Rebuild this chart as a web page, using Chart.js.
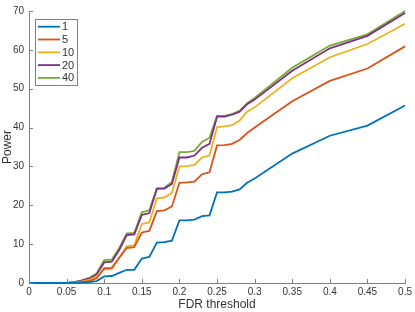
<!DOCTYPE html>
<html>
<head>
<meta charset="utf-8">
<script src="https://cdn.jsdelivr.net/npm/chart.js@4"></script>
<style>
  html, body { margin: 0; padding: 0; background: #fff; }
  canvas { display: block; }
</style>
</head>
<body>
<canvas id="powerChart" width="415" height="312"></canvas>
<script>
const fdr = [0, 0.01, 0.02, 0.03, 0.04, 0.05, 0.06, 0.07, 0.08, 0.09,
  0.1, 0.11, 0.12, 0.13, 0.14, 0.15, 0.16, 0.17, 0.18, 0.19,
  0.2, 0.21, 0.22, 0.23, 0.24, 0.25, 0.26, 0.27, 0.28, 0.29,
  0.3, 0.35, 0.4, 0.45, 0.5];

const labels = ['1', '5', '10', '20', '40'];

const power1 = [0, 0, 0, 0, 0, 0, 0.05, 0.1, 0.2, 0.5,
  1.7, 1.8, 2.6, 3.4, 3.4, 6.3, 6.7, 10.4, 10.5, 10.9,
  16.1, 16.1, 16.3, 17.2, 17.4, 23.3, 23.3, 23.5, 24.1, 25.8,
  26.9, 33.3, 37.9, 40.5, 45.7];
const power5 = [0, 0, 0, 0, 0, 0, 0.1, 0.3, 0.5, 1.2,
  3.8, 3.9, 6.5, 9.0, 9.2, 13.0, 13.4, 18.5, 18.7, 19.7,
  25.8, 25.9, 26.1, 28.0, 28.5, 35.4, 35.5, 35.8, 36.8, 38.6,
  40.0, 46.8, 52.0, 55.2, 60.9];
const power10 = [0, 0, 0, 0, 0, 0, 0.1, 0.4, 0.8, 1.6,
  3.5, 3.6, 6.5, 9.5, 9.7, 15.2, 15.6, 21.8, 22.0, 23.2,
  30.0, 30.1, 30.4, 32.3, 32.8, 40.1, 40.3, 40.6, 41.8, 44.1,
  45.2, 52.7, 58.1, 61.5, 66.7];
const power20 = [0, 0, 0, 0, 0, 0, 0.2, 0.6, 1.1, 2.2,
  5.3, 5.5, 8.5, 12.3, 12.5, 17.5, 18.0, 24.2, 24.3, 25.5,
  32.3, 32.3, 32.8, 34.8, 35.8, 42.8, 42.8, 43.3, 44.1, 46.0,
  47.2, 54.6, 60.4, 63.6, 69.5];
const power40 = [0, 0, 0, 0, 0, 0, 0.2, 0.7, 1.3, 2.5,
  5.9, 6.0, 9.0, 12.8, 12.9, 18.2, 18.7, 24.4, 24.5, 26.0,
  33.7, 33.7, 34.0, 36.3, 37.4, 43.0, 43.0, 43.5, 44.3, 46.3,
  47.6, 55.4, 61.1, 64.0, 70.0];

const series = [power1, power5, power10, power20, power40];
const colors = ['#0072BD', '#D95319', '#EDB120', '#7E2F8E', '#77AC30'];

const axisColor = '#808080';
const textColor = '#333333';
const fontFam = '"Liberation Sans", Arial, Helvetica, sans-serif';

const datasets = series.map((vals, i) => ({
  label: labels[i],
  data: vals.map((v, j) => ({ x: fdr[j], y: v })),
  borderColor: colors[i],
  backgroundColor: colors[i],
  borderWidth: 1.8,
  pointRadius: 0,
  tension: 0,
  clip: false
}));

// MATLAB-like inward tick marks
const inwardTicks = {
  id: 'inwardTicks',
  afterDraw(chart) {
    const ctx = chart.ctx;
    const xs = chart.scales.x, ys = chart.scales.y;
    const a = chart.chartArea;
    ctx.save();
    ctx.strokeStyle = axisColor;
    ctx.lineWidth = 1;
    ctx.beginPath();
    xs.ticks.forEach(t => {
      const px = Math.round(xs.getPixelForValue(t.value)) + 0.5;
      ctx.moveTo(px, a.bottom);
      ctx.lineTo(px, a.bottom - 4);
    });
    ys.ticks.forEach(t => {
      const py = Math.round(ys.getPixelForValue(t.value)) + 0.5;
      ctx.moveTo(a.left, py);
      ctx.lineTo(a.left + 4, py);
    });
    ctx.stroke();
    ctx.restore();
  }
};

// legend box in the top-left of the plot
const boxLegend = {
  id: 'boxLegend',
  afterDraw(chart) {
    const ctx = chart.ctx;
    const x0 = 35.5, y0 = 19.5, w = 42, h = 66;
    ctx.save();
    ctx.fillStyle = '#fff';
    ctx.fillRect(x0, y0, w, h);
    ctx.strokeStyle = axisColor;
    ctx.lineWidth = 1;
    ctx.strokeRect(x0, y0, w, h);
    ctx.font = '11px ' + fontFam;
    ctx.textBaseline = 'middle';
    ctx.fillStyle = textColor;
    chart.data.datasets.forEach((ds, i) => {
      const y = 26.7 + i * 12.8;
      ctx.strokeStyle = ds.borderColor;
      ctx.lineWidth = 1.8;
      ctx.beginPath();
      ctx.moveTo(38, y);
      ctx.lineTo(60, y);
      ctx.stroke();
      ctx.fillText(ds.label, 62, y + 0.5);
    });
    ctx.restore();
  }
};

new Chart(document.getElementById('powerChart'), {
  type: 'line',
  data: { datasets: datasets },
  options: {
    responsive: false,
    animation: false,
    layout: { padding: { top: 5, right: 9, left: 0, bottom: 0 } },
    plugins: { legend: { display: false }, tooltip: { enabled: false } },
    scales: {
      x: {
        type: 'linear',
        min: 0,
        max: 0.5,
        afterFit: s => { s.height = 29; },
        afterBuildTicks: s => {
          s.ticks = [];
          for (let k = 0; k <= 10; k++) s.ticks.push({ value: k * 0.05 });
        },
        ticks: {
          color: textColor,
          font: { size: 10, family: fontFam },
          padding: 3,
          maxRotation: 0,
          autoSkip: false,
          callback: v => String(Number(v.toFixed(2)))
        },
        grid: { display: false, drawTicks: false },
        border: { display: true, color: axisColor, width: 1 },
        title: {
          display: true,
          text: 'FDR threshold',
          color: textColor,
          font: { size: 12, family: fontFam },
          padding: { top: 0, bottom: 0 }
        }
      },
      y: {
        min: 0,
        max: 70,
        afterFit: s => { s.width = 29; },
        ticks: {
          stepSize: 10,
          color: textColor,
          font: { size: 10, family: fontFam },
          padding: 5
        },
        grid: { display: false, drawTicks: false },
        border: { display: true, color: axisColor, width: 1 },
        title: {
          display: true,
          text: 'Power',
          color: textColor,
          font: { size: 12, family: fontFam },
          padding: { top: 0, bottom: 0 }
        }
      }
    }
  },
  plugins: [inwardTicks, boxLegend]
});
</script>
</body>
</html>
